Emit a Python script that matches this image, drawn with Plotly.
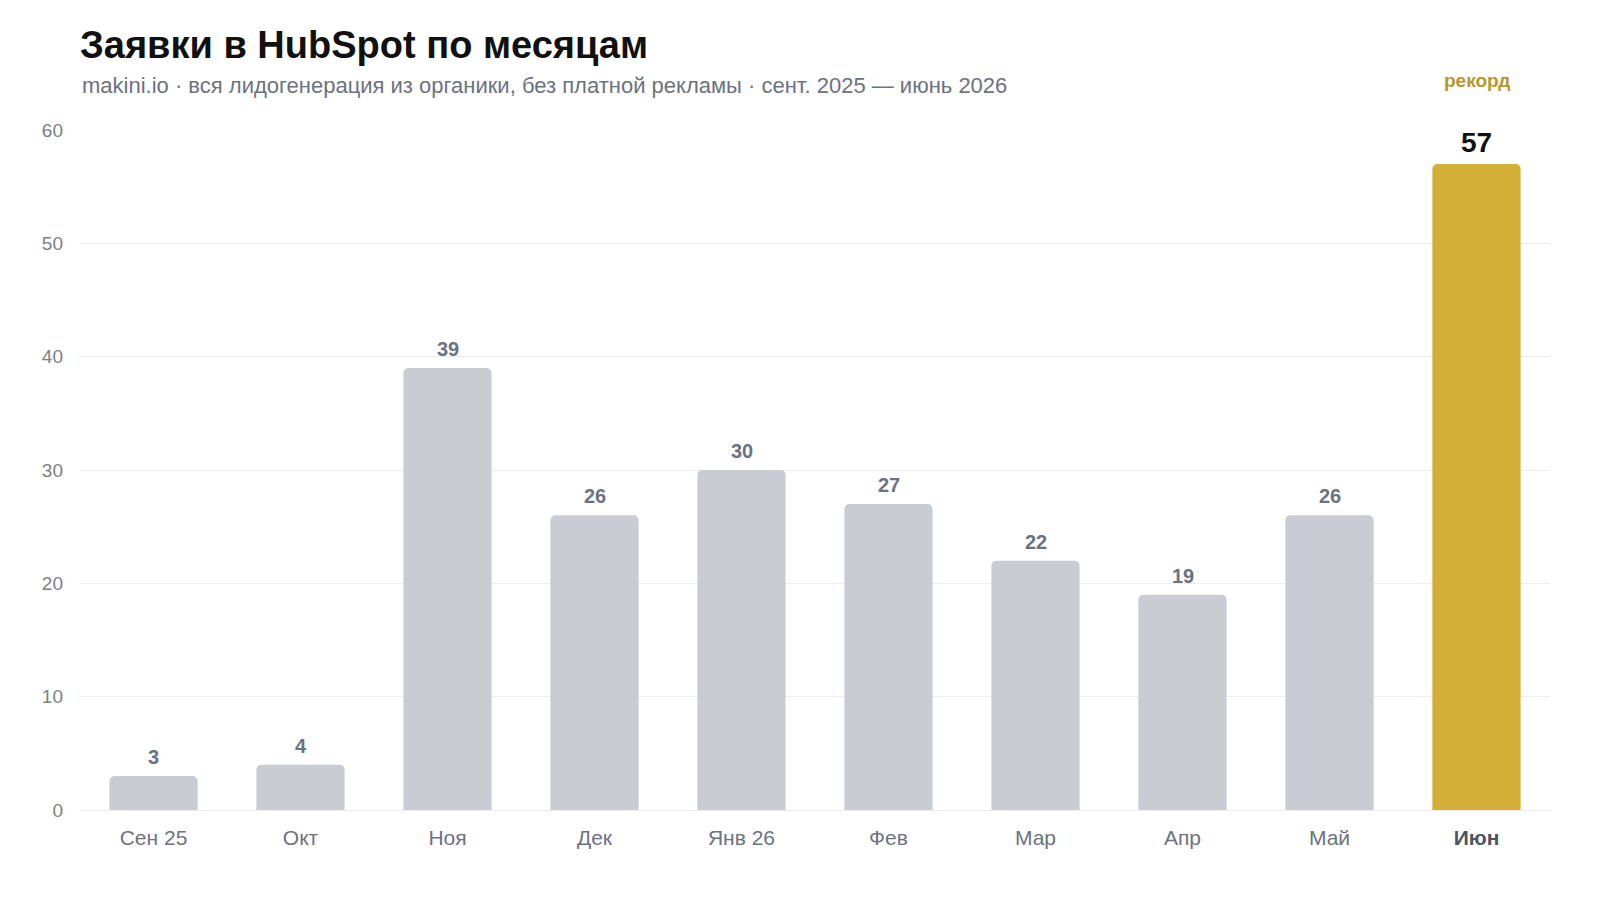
import plotly.graph_objects as go

months = ["Сен 25", "Окт", "Ноя", "Дек", "Янв 26", "Фев", "Мар", "Апр", "Май", "Июн"]
leads = [3, 4, 39, 26, 30, 27, 22, 19, 26, 57]
record_index = 9

GRAY_BAR = "#c9ccd3"
GOLD = "#d4af37"
TXT_GRAY = "#6b7280"
FONT = "Liberation Sans, Arial, Helvetica, sans-serif"

W, H = 1600, 900
MT, MB = 130, 90
plot_h = H - MT - MB

colors = [GOLD if i == record_index else GRAY_BAR for i in range(len(months))]
ticktext = [
    f"<b><span style='color:#4b5563'>{m}</span></b>" if i == record_index else m
    for i, m in enumerate(months)
]

fig = go.Figure()
fig.add_trace(go.Bar(
    x=months, y=leads,
    marker=dict(color=colors, cornerradius=5, line=dict(width=0)),
    hoverinfo="x+y",
    cliponaxis=False,
))

for i, (m, v) in enumerate(zip(months, leads)):
    if i == record_index:
        fig.add_annotation(x=m, y=v, text=f"<b>{v}</b>", showarrow=False,
                           yanchor="bottom", yshift=4,
                           font=dict(size=28, color="#111111", family=FONT))
        fig.add_annotation(x=m, y=1 + (MT - 80) / plot_h, yref="paper",
                           text="<b>рекорд</b>", showarrow=False, yanchor="middle",
                           font=dict(size=19, color="#b8962e", family=FONT))
    else:
        fig.add_annotation(x=m, y=v, text=f"<b>{v}</b>", showarrow=False,
                           yanchor="bottom", yshift=6,
                           font=dict(size=20, color=TXT_GRAY, family=FONT))

fig.add_annotation(
    x=0, xref="paper", xanchor="left",
    y=1 + (MT - 85) / plot_h, yref="paper", yanchor="middle",
    text="makini.io · вся лидогенерация из органики, без платной рекламы · сент. 2025 — июнь 2026",
    showarrow=False, font=dict(size=22, color=TXT_GRAY, family=FONT),
)

fig.update_layout(
    width=W, height=H,
    paper_bgcolor="white", plot_bgcolor="white",
    margin=dict(l=80, r=50, t=MT, b=MB),
    bargap=0.4,
    showlegend=False,
    font=dict(family=FONT, color=TXT_GRAY),
    title=dict(
        text="<b>Заявки в HubSpot по месяцам</b>",
        x=0, xref="paper", xanchor="left",
        y=1 - 45 / H, yref="container", yanchor="middle",
        font=dict(size=38, color="#111111", family=FONT),
    ),
)

fig.update_xaxes(
    tickmode="array", tickvals=months, ticktext=ticktext,
    tickfont=dict(size=21, color=TXT_GRAY, family=FONT),
    showgrid=False, showline=False, ticks="", ticklabelstandoff=13,
)
fig.update_yaxes(
    range=[0, 60], dtick=10,
    tickfont=dict(size=19, color="#7a7f88", family=FONT),
    gridcolor="#ececec", gridwidth=1,
    zeroline=True, zerolinecolor="#ececec", zerolinewidth=1,
    showline=False, ticks="", ticklabelstandoff=16,
)

fig.write_html("out.html")
